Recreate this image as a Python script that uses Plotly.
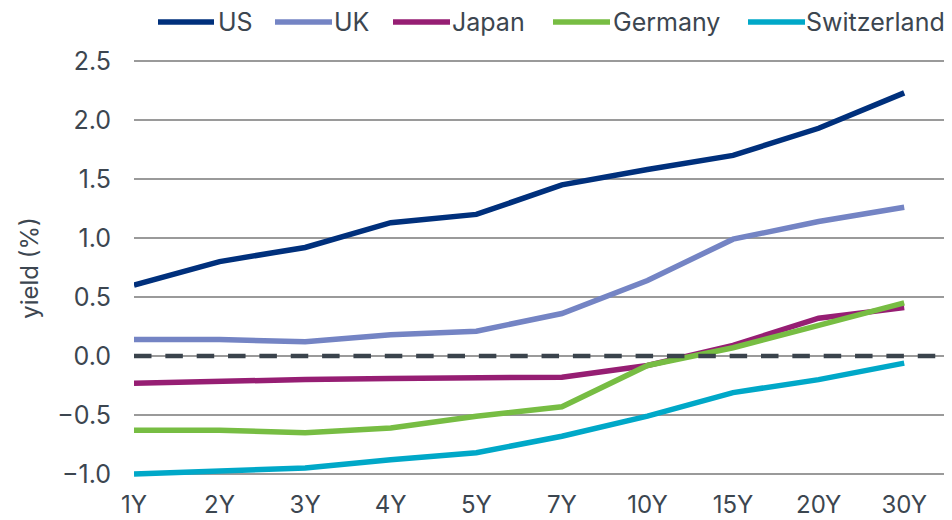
import plotly.graph_objects as go

maturities = ["1Y", "2Y", "3Y", "4Y", "5Y", "7Y", "10Y", "15Y", "20Y", "30Y"]
us = [0.60, 0.80, 0.92, 1.13, 1.20, 1.45, 1.58, 1.70, 1.93, 2.23]
uk = [0.14, 0.14, 0.12, 0.18, 0.21, 0.36, 0.64, 0.99, 1.14, 1.26]
japan = [-0.23, -0.21, -0.20, -0.19, -0.19, -0.18, -0.08, 0.09, 0.32, 0.41]
germany = [-0.63, -0.63, -0.65, -0.61, -0.51, -0.43, -0.08, 0.07, 0.26, 0.45]
switzerland = [-1.00, -0.97, -0.95, -0.88, -0.82, -0.68, -0.51, -0.31, -0.20, -0.06]
y_ticks = [-1.0, -0.5, 0.0, 0.5, 1.0, 1.5, 2.0, 2.5]
series_names = ["US", "UK", "Japan", "Germany", "Switzerland"]
series_values = [us, uk, japan, germany, switzerland]

# styling
colors = ["#00307C", "#7484C4", "#961E73", "#77BD43", "#00A8C8"]
FONT = "Inter"
TXT = "#3C4650"
OFF = 8  # page body margin offset
W, H = 952 - OFF, 520 - OFF
ML, MR, MT, MB = 134 - OFF, 5, 58 - OFF, 42
PW, PH = W - ML - MR, H - MT - MB

# legend layout in reference-page pixels (line start, line end, text start)
leg_px = [(158, 214, 217), (275, 332, 333), (393, 450, 451), (553, 610, 612), (748, 805, 805)]
leg_y_px = 22


def px_x(p):
    return (p - OFF - ML) / PW


def px_y(p):
    return (H - MB - (p - OFF)) / PH


fig = go.Figure()
xi = list(range(len(maturities)))
for name, vals, col in zip(series_names, series_values, colors):
    fig.add_trace(go.Scatter(
        x=xi, y=vals, name=name, mode="lines",
        line=dict(color=col, width=5.5), showlegend=False,
    ))

# zero reference line
fig.add_shape(type="line", xref="x", yref="y", x0=0, x1=len(maturities) - 0.5,
              y0=0, y1=0, line=dict(color="#3A434C", width=4.5, dash="17.5px,13.85px"),
              layer="above")

# legend drawn as swatches + labels
for name, col, (l0, l1, t0) in zip(series_names, colors, leg_px):
    fig.add_shape(type="line", xref="paper", yref="paper",
                  x0=px_x(l0), x1=px_x(l1), y0=px_y(leg_y_px), y1=px_y(leg_y_px),
                  line=dict(color=col, width=5.5))
    fig.add_annotation(xref="paper", yref="paper", x=px_x(t0), y=px_y(leg_y_px),
                       text=name, showarrow=False, xanchor="left", yanchor="middle",
                       borderpad=0, font=dict(family=FONT, size=25, color=TXT))

fig.update_layout(
    width=W, height=H,
    margin=dict(l=ML, r=MR, t=MT, b=MB, autoexpand=False),
    paper_bgcolor="white", plot_bgcolor="white",
    font=dict(family=FONT, size=25, color=TXT),
    showlegend=False,
)
fig.update_xaxes(
    tickmode="array", tickvals=xi, ticktext=maturities,
    range=[0, len(maturities) - 0.5],
    showgrid=False, zeroline=False, showline=False, automargin=False,
    ticks="", ticklabelstandoff=10,
    tickfont=dict(family=FONT, size=24, color=TXT),
)
fig.update_yaxes(
    range=[-1.0339, 2.5254], tickmode="array", tickvals=y_ticks,
    ticktext=[f"{v:.1f}".replace("-", "\u2212") for v in y_ticks],
    showgrid=True, gridcolor="#9A9A9A", gridwidth=2, automargin=False,
    zeroline=False, showline=False, ticks="", ticklabelstandoff=22,
    tickfont=dict(family=FONT, size=25, color=TXT),
    title=dict(text="yield (%)", font=dict(family=FONT, size=24, color=TXT), standoff=11),
)

fig.write_html("out.html")
